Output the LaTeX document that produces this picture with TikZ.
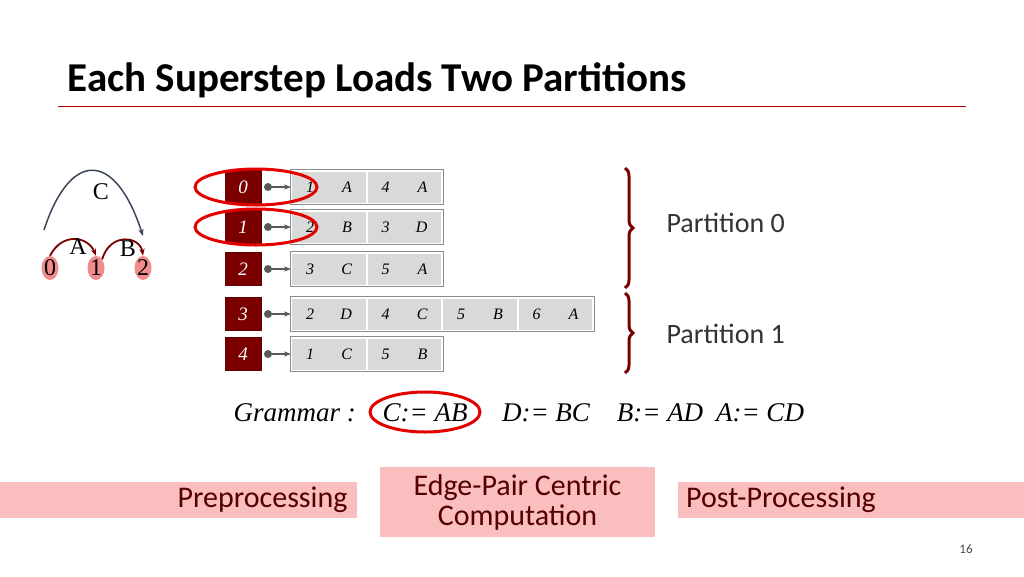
\documentclass[tikz,border=0pt]{standalone}
\usepackage{fontspec}
\setmainfont{Carlito}
\newfontfamily\cellfont{Liberation Serif}
\usetikzlibrary{positioning,shapes.geometric,decorations.pathreplacing,arrows.meta}
\definecolor{darkred}{RGB}{122,0,0}
\definecolor{pinkbar}{RGB}{250,190,190}
\definecolor{vnode}{RGB}{240,140,140}
\definecolor{arcblue}{RGB}{60,70,90}
\begin{document}
\begin{tikzpicture}[x=1pt,y=-1pt,
	idx node/.style = {draw=darkred!80!black,fill=darkred,text=white,minimum width=36pt,minimum height=33pt,inner sep=0pt,font=\cellfont\itshape\fontsize{19}{19}\selectfont},
	cell node/.style = {fill=black!15,draw=white,line width=2pt,minimum width=75.5pt,minimum height=33pt,inner sep=0pt,font=\cellfont\itshape\fontsize{16}{16}\selectfont},
	v node/.style = {ellipse,fill=vnode,inner sep=0pt,minimum width=17pt,minimum height=24pt,font=\cellfont\fontsize{24}{24}\selectfont},
	gram node/.style = {font=\cellfont\itshape\fontsize{27}{27}\selectfont},
	bar node/.style = {fill=pinkbar,inner sep=0pt,font=\fontsize{30}{30}\selectfont,text=darkred!70!black,align=center}]
\useasboundingbox (0,0) rectangle (1024,576);
\fill[white] (0,0) rectangle (1024,576);

% title
\node[anchor=west,font=\bfseries\fontsize{41}{41}\selectfont] (title) at (64,80) {Each Superstep Loads Two Partitions};
\draw[red!75!black,line width=0.8pt] (58,106) -- (966,106);

% small graph
\node[v node] (v0) at (50,268) {0};
\node[v node] (v1) at (96,268) {1};
\node[v node] (v2) at (143,268) {2};
\draw[darkred,line width=1.8pt,-{Stealth[length=7pt]}] (v0.north) .. controls (62,232) and (88,236) .. (v1.north);
\draw[darkred,line width=1.8pt,-{Stealth[length=7pt]}] (v1.north east) .. controls (110,232) and (140,236) .. (v2.north);
\draw[arcblue,line width=1.5pt,-{Stealth[length=7pt]}] (44,230) .. controls (70,150) and (115,150) .. (143,236);
\node[font=\cellfont\fontsize{24}{24}\selectfont] (lc) at (101,192) {C};
\node[font=\cellfont\fontsize{24}{24}\selectfont] (la) at (78,247) {A};
\node[font=\cellfont\fontsize{24}{24}\selectfont] (lb) at (128,249) {B};

% edge lists
\foreach \r/\y/\cells in {0/187/{1/A,4/A},1/227/{2/B,3/D},2/269/{3/C,5/A},3/314/{2/D,4/C,5/B,6/A},4/354/{1/C,5/B}}{
	\node[idx node] (idx\r) at (243,\y) {\r};
	\fill[black!65] (268,\y) circle (4pt);
	\draw[black!65,line width=1.8pt,-{Stealth[length=7pt]}] (268,\y) -- (291,\y);
	\foreach \n/\l [count=\k from 0] in \cells{
		\node[cell node] (c\r\k) at (329+75.5*\k,\y) {\makebox[46pt]{\n\hfill\l}};
		\xdef\last{\k}
	}
	\draw[black!45,line width=1.5pt] (c\r0.north west) rectangle (c\r\last.south east);
}

% highlight rings
\draw[red!90!black,line width=3pt] (256,187) ellipse (61pt and 18pt);
\draw[red!90!black,line width=3pt] (256,227) ellipse (61pt and 18pt);

% braces
\draw[darkred,line width=3pt,decorate,decoration={brace,amplitude=8pt}] (625,168) -- (625,288);
\draw[darkred,line width=3pt,decorate,decoration={brace,amplitude=8pt}] (625,293) -- (625,373);
\node[anchor=west,font=\fontsize{28}{28}\selectfont,text=black!80] (p0) at (663,223) {Partition 0};
\node[anchor=west,font=\fontsize{28}{28}\selectfont,text=black!80] (p1) at (663,334) {Partition 1};

% grammar
\node[gram node,anchor=west] (gram) at (230,413) {Grammar :};
\node[gram node] (g1) at (425,413) {C:= AB};
\node[gram node] (g2) at (546,413) {D:= BC};
\node[gram node] (g3) at (660,413) {B:= AD};
\node[gram node] (g4) at (760,413) {A:= CD};
\draw[red!90!black,line width=3pt] (425,412) ellipse (55pt and 20pt);

% phases
\node[bar node,minimum width=357pt,minimum height=36pt] (pre) at (178.5,500) {\hspace*{168pt}Preprocessing};
\node[bar node,minimum width=275pt,minimum height=70pt] (epc) at (517.5,502) {Edge-Pair Centric\\Computation};
\node[bar node,minimum width=346pt,minimum height=36pt] (post) at (851,500) {Post-Processing\hspace*{140pt}};
\node[font=\fontsize{13}{13}\selectfont,text=black!70] (pg) at (966,549) {16};
\end{tikzpicture}
\end{document}
